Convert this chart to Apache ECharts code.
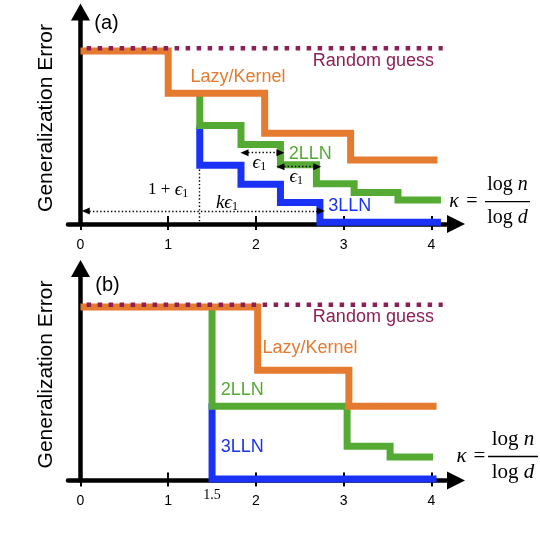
<!DOCTYPE html>
<html><head><meta charset="utf-8">
<script src="https://cdn.jsdelivr.net/npm/echarts@6/dist/echarts.min.js"></script>
<style>html,body{margin:0;padding:0;background:#fff}#c{width:540px;height:542px}</style>
</head><body><div id="c"></div>
<script>
// ---- data ----
const tickLabelsA = [0, 1, 2, 3, 4];
const tickLabelsB = [0, 1, 1.5, 2, 3, 4];
const tickMarks = [1, 2, 3, 4];
const tickMarksOut = [0, 1, 2, 3, 4];

const randomX = [0.07, 4.13];
const randomY = [1, 1];

// panel (a)
const lazyAX = [0, 1, 2.10, 3.08, 4.07];
const lazyAY = [0.985, 0.744, 0.516, 0.364, 0.364];
const twoAX = [1.36, 1.83, 2.28, 2.69, 3.12, 3.62, 4.11];
const twoAY = [0.744, 0.561, 0.452, 0.338, 0.229, 0.179, 0.137];
const threeAX = [1.36, 1.83, 2.28, 2.73, 4.11];
const threeAY = [0.561, 0.335, 0.227, 0.122, 0.01];

// panel (b)
const lazyBX = [0, 2.02, 3.06, 4.06];
const lazyBY = [0.988, 0.628, 0.423, 0.423];
const twoBX = [1.5, 3.04, 3.53, 4.02];
const twoBY = [0.988, 0.423, 0.195, 0.134];
const threeBX = [1.5, 4.06];
const threeBY = [0.44, 0.009];

// ---- style ----
const C = { orange: '#E57B30', green: '#55AA34', blue: '#1932F5', purple: '#8C1F55', black: '#000' };
const SANS = "'Liberation Sans', Arial, Helvetica, sans-serif";
const SERIF = "'Liberation Serif', 'Times New Roman', 'DejaVu Serif', serif";
const XMIN = -0.1425, XMAX = 4.2816, YMAX = 1.207;

const zip = (xs, ys) => xs.map((x, i) => [x, ys[i]]);

function grids() {
  return [
    { left: 68, right: 84, top: 12, height: 212 },
    { left: 68, right: 84, top: 268.5, height: 212 }
  ];
}

function xAxes(g, labels) {
  return [
    {
      gridIndex: g, type: 'value', min: XMIN, max: XMAX, position: 'bottom',
      axisLine: { show: true, onZero: true, lineStyle: { color: C.black, width: 4.5 },
        symbol: ['none', 'triangle'], symbolSize: [18, 18] },
      axisTick: { show: true, inside: true, length: 8, lineStyle: { color: C.black, width: 2 }, customValues: tickMarks },
      axisLabel: { show: true, customValues: labels, interval: 0, margin: 14, fontSize: 14, color: C.black,
        fontFamily: SANS,
        formatter: v => (v === 1.5 ? '{s|1.5}' : String(v)),
        rich: { s: { fontFamily: SERIF, fontSize: 14, lineHeight: 1, color: C.black } } },
      splitLine: { show: false }
    },
    {
      gridIndex: g, type: 'value', min: XMIN, max: XMAX, position: 'bottom',
      axisLine: { show: false, onZero: true },
      axisTick: { show: true, inside: false, length: 6, lineStyle: { color: C.black, width: 2 }, customValues: tickMarksOut },
      axisLabel: { show: false },
      splitLine: { show: false }
    }
  ];
}

function yAxis(g) {
  return {
    gridIndex: g, type: 'value', min: 0, max: YMAX,
    axisLine: { show: true, onZero: true, lineStyle: { color: C.black, width: 4.5 },
      symbol: ['none', 'triangle'], symbolSize: [19, 17] },
    axisTick: { show: false }, axisLabel: { show: false }, splitLine: { show: false },
    name: 'Generalization Error', nameLocation: 'middle', nameGap: 11,
    nameTextStyle: { fontSize: 21, color: C.black, fontFamily: SANS }
  };
}

function stepSeries(name, xs, ys, color, step, g, z, label) {
  const s = {
    name, type: 'line', step, data: zip(xs, ys), xAxisIndex: 2 * g, yAxisIndex: g,
    symbol: 'none', z, silent: true, clip: false, animation: false,
    lineStyle: { color, width: 7, cap: 'butt', join: 'miter' }
  };
  if (label) {
    s.markPoint = {
      symbol: 'circle', symbolSize: 0, silent: true, animation: false,
      label: { show: true, position: label.pos, distance: 0, formatter: '{b}', color, fontSize: 18, fontFamily: SANS },
      data: [{ name: label.text, coord: label.coord }]
    };
  }
  return s;
}

const epsRich = {
  n: { fontFamily: SERIF, fontSize: 17, color: C.black, lineHeight: 20 },
  e: { fontFamily: SERIF, fontStyle: 'italic', fontSize: 19, color: C.black, lineHeight: 20 },
  s: { fontFamily: SERIF, fontSize: 12, color: C.black, lineHeight: 12, verticalAlign: 'bottom' }
};
function annText(text, coord) {
  return { name: text, coord, label: { show: true, position: 'inside', formatter: text, rich: epsRich, color: C.black } };
}

function randomSeries(g, labelCoord, withAnn) {
  const s = {
    name: 'Random guess', type: 'line', data: zip(randomX, randomY), xAxisIndex: 2 * g, yAxisIndex: g,
    symbol: 'none', z: 4, silent: true, clip: false, animation: false,
    lineStyle: { color: C.purple, width: 4.5, type: [4.5, 6.5], cap: 'butt' },
    markPoint: {
      symbol: 'circle', symbolSize: 0, silent: true, animation: false,
      label: { show: true, position: 'left', distance: 0, formatter: '{b}', color: C.purple, fontSize: 18, fontFamily: SANS },
      data: [{ name: 'Random guess', coord: labelCoord }]
    }
  };
  if (withAnn) {
    s.markPoint.data.push(
      annText('{e|ϵ}{s|1}', [2.04, 0.347]),
      annText('{e|ϵ}{s|1}', [2.46, 0.268]),
      annText('{n|1 + }{e|ϵ}{s|1}', [1.0, 0.194]),
      annText('{e|kϵ}{s|1}', [1.67, 0.12])
    );
    const arrowEnd = (x, y) => ({ coord: [x, y], symbol: 'triangle' });
    const plainEnd = (x, y) => ({ coord: [x, y], symbol: 'none' });
    s.markLine = {
      silent: true, animation: false, symbolSize: [7, 8],
      label: { show: false },
      lineStyle: { color: C.black, width: 1.4, type: [1.4, 2.2] },
      itemStyle: { color: C.black },
      data: [
        [arrowEnd(0.06, 0.074), arrowEnd(2.74, 0.074)],
        [plainEnd(1.354, 0.31), plainEnd(1.354, 0.0)],
        [arrowEnd(1.87, 0.406), arrowEnd(2.28, 0.406)],
        [arrowEnd(2.28, 0.326), arrowEnd(2.70, 0.326)]
      ]
    };
  }
  return s;
}

function kappa(cx, cy, size, fracX, fracW) {
  const rich = {
    u: { fontFamily: SERIF, fontSize: size, fill: C.black },
    i: { fontFamily: SERIF, fontSize: size, fontStyle: 'italic', fill: C.black }
  };
  return [
    { type: 'text', x: cx, y: cy, style: { text: 'κ', font: `italic ${size}px ${SERIF}`, fill: C.black, align: 'center', verticalAlign: 'middle' } },
    { type: 'text', x: cx + 18, y: cy, style: { text: '=', font: `${size}px ${SERIF}`, fill: C.black, align: 'center', verticalAlign: 'middle' } },
    { type: 'text', x: fracX, y: cy - 17, style: { text: '{u|log }{i|n}', rich, align: 'center', verticalAlign: 'middle' } },
    { type: 'line', shape: { x1: fracX - fracW / 2, y1: cy, x2: fracX + fracW / 2, y2: cy }, style: { stroke: C.black, lineWidth: 1.3 } },
    { type: 'text', x: fracX, y: cy + 16, style: { text: '{u|log }{i|d}', rich, align: 'center', verticalAlign: 'middle' } }
  ];
}

const chart = echarts.init(document.getElementById('c'), null, { renderer: 'canvas' });
chart.setOption({
  animation: false,
  backgroundColor: '#fff',
  grid: grids(),
  xAxis: [...xAxes(0, tickLabelsA), ...xAxes(1, tickLabelsB)],
  yAxis: [yAxis(0), yAxis(1)],
  graphic: [
    { type: 'text', x: 106.5, y: 23.5, style: { text: '(a)', font: `20px ${SANS}`, fill: C.black, align: 'center', verticalAlign: 'middle' } },
    { type: 'text', x: 107.5, y: 285, style: { text: '(b)', font: `20px ${SANS}`, fill: C.black, align: 'center', verticalAlign: 'middle' } },
    ...kappa(454, 201.7, 20, 507.5, 45),
    ...kappa(461.5, 456.5, 21, 513, 50)
  ],
  series: [
    stepSeries('3LLN', threeAX, threeAY, C.blue, 'start', 0, 1, { text: '3LLN', coord: [2.825, 0.10], pos: 'right' }),
    stepSeries('2LLN', twoAX, twoAY, C.green, 'start', 0, 2, { text: '2LLN', coord: [2.375, 0.401], pos: 'right' }),
    stepSeries('Lazy/Kernel', lazyAX, lazyAY, C.orange, 'end', 0, 3, { text: 'Lazy/Kernel', coord: [1.255, 0.837], pos: 'right' }),
    randomSeries(0, [4.03, 0.925], true),
    stepSeries('3LLN', threeBX, threeBY, C.blue, 'start', 1, 1, { text: '3LLN', coord: [1.6, 0.188], pos: 'right' }),
    stepSeries('2LLN', twoBX, twoBY, C.green, 'start', 1, 2, { text: '2LLN', coord: [1.6, 0.515], pos: 'right' }),
    stepSeries('Lazy/Kernel', lazyBX, lazyBY, C.orange, 'end', 1, 3, { text: 'Lazy/Kernel', coord: [2.075, 0.757], pos: 'right' }),
    randomSeries(1, [4.03, 0.928], false)
  ]
});
</script>
</body></html>
